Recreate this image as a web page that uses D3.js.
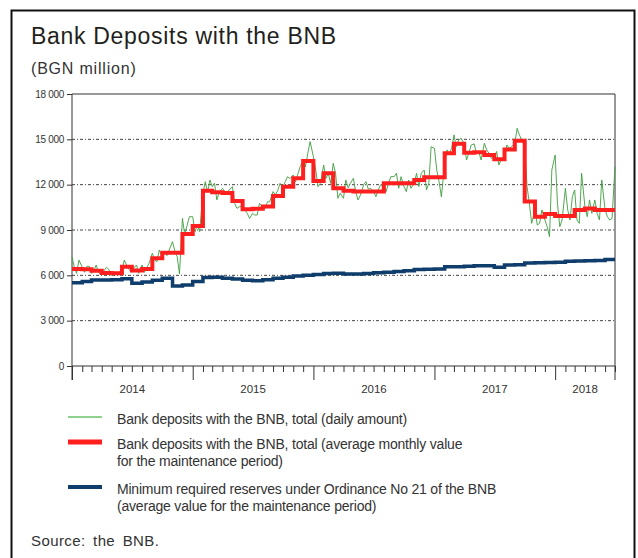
<!DOCTYPE html>
<html>
<head>
<meta charset="utf-8">
<script src="https://cdn.jsdelivr.net/npm/d3@7"></script>
<style>
  body { margin: 0; background: #fff; }
  svg { font-family: "Liberation Sans", Arial, sans-serif; }
</style>
</head>
<body>
<svg id="chart" width="638" height="558"></svg>
<script>
// average monthly value for the maintenance period, one value per month from Jan 2014
const depositsMonthly = [
  6420, 6400, 6300, 6150, 6130, 6570, 6320, 6420, 7130, 7500, 7500, 8740,
  9270, 11600, 11500, 11450, 10920, 10370, 10400, 10550, 11250, 11870, 12420, 13570,
  12240, 12750, 11760, 11600, 11540, 11540, 11540, 12090, 12090, 12090, 12310, 12490,
  12490, 14080, 14700, 14120, 14140, 13960, 13680, 14320, 14900, 10880, 9880, 10060,
  9930, 9930, 10330, 10430, 10330, 10330
];

// minimum required reserves, one value per month from Jan 2014
const reservesMonthly = [
  5510, 5600, 5690, 5690, 5700, 5780, 5470, 5560, 5680, 5800, 5300, 5360,
  5600, 5850, 5870, 5800, 5750, 5680, 5640, 5700, 5800, 5880, 5950, 6000,
  6060, 6120, 6130, 6080, 6080, 6120, 6170, 6200, 6260, 6310, 6380, 6400,
  6420, 6560, 6570, 6600, 6640, 6640, 6540, 6680, 6700, 6820, 6840, 6850,
  6870, 6940, 6950, 6960, 6980, 7050
];

// daily amount, read roughly once a week (4 readings per month from Jan 2014)
const depositsDaily = [
  7230, 6530, 6130, 7010,  6530, 6200, 6600, 6600,  6130, 6300, 6680, 6200,  6000, 6300, 6530, 6400,
  6000, 6000, 6200, 6200,  6330, 7010, 6680, 6400,  6200, 6500, 6680, 6130,  6680, 6200, 6500, 6800,
  7460, 7000, 6900, 7680,  7200, 7460, 7300, 7680,  8230, 7600, 7240, 6090,  9770, 8670, 9300, 9880,
  9880, 8890, 9330, 8890,  11430, 12200, 11500, 12310,  11870, 12100, 10990, 11500,  11760, 11540, 11540, 11650,
  11870, 10760, 10430, 10540,  10540, 10320, 10100, 9770,  10100, 9990, 9990, 10760,  10540, 10430, 10870, 10870,
  11540, 11320, 11600, 12090,  11870, 12200, 12530, 12400,  12640, 12200, 12700, 13190,  13630, 13190, 14080, 14850,
  13850, 12970, 11870, 12090,  13300, 12420, 12750, 12090,  13410, 12750, 11100, 11430,  11100, 12310, 11800, 12100,
  12420, 11500, 10990, 11300,  12000, 12200, 11700, 11760,  11540, 11200, 11650, 11980,  11980, 11540, 12100, 12530,
  12530, 12750, 11760, 12530,  11870, 11540, 12310, 11760,  12100, 12750, 11870, 12750,  12970, 11650, 12100, 14510,
  14400, 12970, 12200, 11200,  13410, 14300, 14080, 14400,  15290, 14510, 14950, 15070,  14740, 13630, 14080, 14620,
  14700, 14080, 14200, 13630,  14740, 14300, 14080, 13740,  13850, 14200, 13300, 13700,  13850, 14630, 14400, 14500,
  14740, 15730, 15290, 14960,  14500, 11870, 10770, 9440,  10330, 9330, 9440, 10330,  9660, 9220, 8560, 12970,
  13960, 10770, 9220, 9660,  11760, 10330, 9660, 11200,  11650, 9660, 9440, 12750,  10550, 9880, 10990, 10100,
  10990, 10100, 9660, 12310,  10330, 9880, 9660, 9770,
  13190
];

const yTicks = [0, 3000, 6000, 9000, 12000, 15000, 18000];
const years = [2014, 2015, 2016, 2017, 2018];

const legendItems = [
  { lines: ["Bank deposits with the BNB, total (daily amount)"], color: "#8fd18f", width: 2 },
  { lines: ["Bank deposits with the BNB, total (average monthly value", "for the maintenance period)"], color: "#ff1f1f", width: 5 },
  { lines: ["Minimum required reserves under Ordinance No 21 of the BNB", "(average value for the maintenance period)"], color: "#0f3d6c", width: 4 }
];

const svg = d3.select("#chart");

// frame
svg.append("rect")
  .attr("x", 11.5).attr("y", 10.5)
  .attr("width", 623).attr("height", 580)
  .attr("fill", "none").attr("stroke", "#111").attr("stroke-width", 2);

// title
svg.append("text").attr("x", 31).attr("y", 44)
  .attr("font-size", 23).attr("letter-spacing", 0.7).attr("fill", "#231f20")
  .text("Bank Deposits with the BNB");
svg.append("text").attr("x", 31).attr("y", 74)
  .attr("font-size", 16).attr("letter-spacing", 0.8).attr("fill", "#333")
  .text("(BGN million)");

const start = new Date(2014, 0, 1);
const end = new Date(2018, 6, 1);

const x = d3.scaleTime().domain([start, end]).range([72, 615]);
const y = d3.scaleLinear().domain([0, 18000]).range([366, 94]);

const fmt = d3.formatLocale({ decimal: ".", thousands: " ", grouping: [3], currency: ["", ""] }).format(",");

// grid
svg.append("g").selectAll("line")
  .data(yTicks.filter(d => d > 0 && d < 18000))
  .enter().append("line")
  .attr("x1", x(start)).attr("x2", x(end))
  .attr("y1", d => y(d)).attr("y2", d => y(d))
  .attr("stroke", "#444").attr("stroke-width", 1)
  .attr("stroke-dasharray", "3,2,1,2");

// top and right border of the plot
svg.append("line").attr("x1", x(start)).attr("x2", x(end))
  .attr("y1", y(18000)).attr("y2", y(18000))
  .attr("stroke", "#333").attr("stroke-width", 1);
svg.append("line").attr("x1", x(end)).attr("x2", x(end))
  .attr("y1", y(18000)).attr("y2", 380)
  .attr("stroke", "#333").attr("stroke-width", 1);

// y axis
const yAxis = svg.append("g")
  .attr("transform", `translate(${x(start)},0)`)
  .call(d3.axisLeft(y).tickValues(yTicks).tickSize(5).tickFormat(fmt));
yAxis.select(".domain").remove();
yAxis.append("line").attr("x1", 0).attr("x2", 0).attr("y1", y(18000)).attr("y2", 380)
  .attr("stroke", "#333");
yAxis.selectAll(".tick line").attr("stroke", "#333");
yAxis.selectAll(".tick text")
  .attr("font-family", "Liberation Sans, Arial, sans-serif")
  .attr("font-size", 10).attr("letter-spacing", -0.3).attr("fill", "#333").attr("x", -8);

// x axis: monthly ticks, longer at year boundaries
const xAxis = svg.append("g")
  .attr("transform", `translate(0,${y(0)})`)
  .call(d3.axisBottom(x).ticks(d3.timeMonth.every(1)).tickSize(6).tickFormat(""));
xAxis.select(".domain").attr("stroke", "#333").attr("d", `M${x(start)},0H${x(end)}`);
xAxis.selectAll(".tick line")
  .attr("stroke", "#333")
  .attr("y2", d => d.getMonth() === 0 ? 14 : 6);

// year labels centred between boundaries
svg.append("g").selectAll("text")
  .data(years)
  .enter().append("text")
  .attr("x", d => x(new Date(d, 0, 1)) + (Math.min(x(new Date(d + 1, 0, 1)), x(end)) - x(new Date(d, 0, 1))) / 2)
  .attr("y", 393)
  .attr("text-anchor", "middle")
  .attr("font-size", 11.5).attr("fill", "#333")
  .text(d => d);

const plot = svg.append("g");

// daily series
const dailyPoints = depositsDaily.map((v, i) => ({ date: new Date(2014, Math.floor(i / 4), 1 + 7 * (i % 4)), value: v }));
plot.append("path")
  .datum(dailyPoints)
  .attr("fill", "none").attr("stroke", "#3f9d3f").attr("stroke-width", 1)
  .attr("stroke-opacity", 0.9)
  .attr("stroke-linejoin", "round")
  .attr("d", d3.line().x(d => x(d.date)).y(d => y(d.value)));

// monthly step series
function stepPoints(values) {
  const pts = values.map((v, i) => ({ date: new Date(2014, i, 1), value: v }));
  pts.push({ date: end, value: values[values.length - 1] });
  return pts;
}
const stepLine = d3.line().curve(d3.curveStepAfter).x(d => x(d.date)).y(d => y(d.value));

plot.append("path")
  .datum(stepPoints(reservesMonthly))
  .attr("fill", "none").attr("stroke", "#0f3d6c").attr("stroke-width", 3.5)
  .attr("d", stepLine);

plot.append("path")
  .datum(stepPoints(depositsMonthly))
  .attr("fill", "none").attr("stroke", "#ff1f1f").attr("stroke-width", 4)
  .attr("d", stepLine);

// legend
const legendY = [417, 442, 487];
const legend = svg.append("g");
legendItems.forEach((item, i) => {
  legend.append("line")
    .attr("x1", 68).attr("x2", 102)
    .attr("y1", legendY[i]).attr("y2", legendY[i])
    .attr("stroke", item.color).attr("stroke-width", item.width);
  item.lines.forEach((t, j) => {
    legend.append("text")
      .attr("x", 117).attr("y", legendY[i] + 7 + j * 17)
      .attr("font-size", 14).attr("letter-spacing", -0.2).attr("fill", "#333")
      .text(t);
  });
});

// source
svg.append("text").attr("x", 31).attr("y", 546)
  .attr("font-size", 15).attr("letter-spacing", 0.4).attr("word-spacing", 3).attr("fill", "#333")
  .text("Source: the BNB.");
</script>
</body>
</html>
